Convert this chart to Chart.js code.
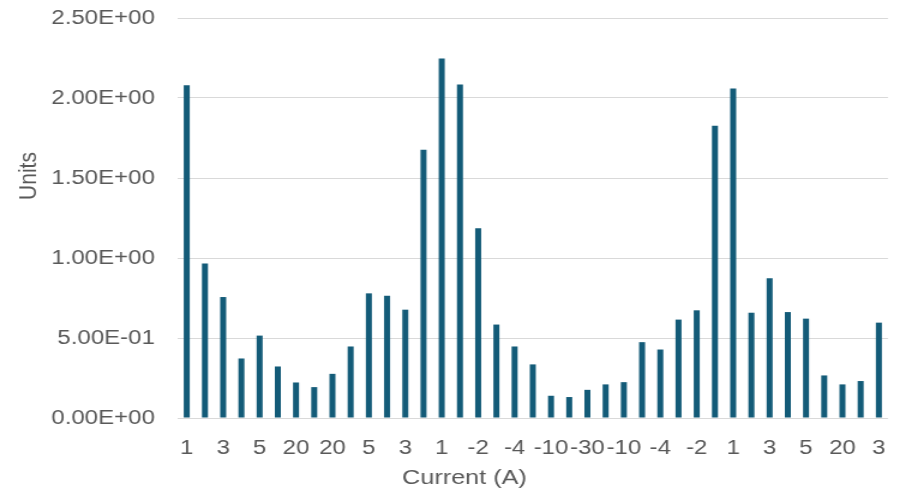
<!DOCTYPE html>
<html>
<head>
<meta charset="utf-8">
<script src="https://cdn.jsdelivr.net/npm/chart.js@4"></script>
<style>
  html, body { margin: 0; padding: 0; background: #fff; overflow: hidden; }
  /* the reference is drawn wider than tall, so stretch the chart by 1.2 horizontally;
     the canvas is nudged up 13px because Chart.js keeps ~31px above the plot */
  #wrap { position: relative; top: -13px; width: 756px; height: 505px; transform: scaleX(1.2); transform-origin: 0 0; }
  #myChart { display: block; }
</style>
</head>
<body>
<div id="wrap"><canvas id="myChart" width="756" height="505"></canvas></div>
<script>
let currents = ["1", "2", "3", "4", "5", "10", "20", "30", "20", "10", "5", "4", "3", "2", "1",
  "-1", "-2", "-3", "-4", "-5", "-10", "-20", "-30", "-20", "-10", "-5", "-4", "-3", "-2", "-1",
  "1", "2", "3", "4", "5", "10", "20", "10", "3"];
let units = [2.08, 0.965, 0.756, 0.372, 0.515, 0.322, 0.222, 0.193, 0.276, 0.447, 0.779, 0.764, 0.677,
  1.676, 2.247, 2.085, 1.186, 0.584, 0.447, 0.335, 0.139, 0.131, 0.176, 0.21, 0.224, 0.474,
  0.428, 0.615, 0.673, 1.826, 2.06, 0.658, 0.874, 0.662, 0.621, 0.266, 0.21, 0.231, 0.596];
let yTicks = [0, 0.5, 1, 1.5, 2, 2.5];

let textColor = "#595959";
let font = "'Liberation Sans', Arial, sans-serif";
let shiftY = 13;

function sci(v) {
  let parts = v.toExponential(2).split("e");
  let exp = parseInt(parts[1], 10);
  let sign = exp < 0 ? "-" : "+";
  return parts[0] + "E" + sign + String(Math.abs(exp)).padStart(2, "0");
}

// axis titles sit off-centre in the reference, so they are drawn here
let axisTitles = {
  id: "axisTitles",
  afterDraw(chart) {
    let ctx = chart.ctx;
    ctx.save();
    ctx.fillStyle = textColor;
    ctx.font = "21px " + font;
    ctx.textAlign = "center";
    ctx.textBaseline = "middle";
    ctx.fillText("Current (A)", 387, 478 + shiftY);
    ctx.translate(24, 176 + shiftY);
    ctx.rotate(-Math.PI / 2);
    ctx.fillText("Units", 0, 0);
    ctx.restore();
  },
};

new Chart(document.getElementById("myChart"), {
  type: "bar",
  data: {
    labels: currents,
    datasets: [
      {
        data: units,
        backgroundColor: "#135B78",
        barPercentage: 0.33,
        categoryPercentage: 1,
      },
    ],
  },
  options: {
    responsive: false,
    animation: false,
    layout: { autoPadding: false, padding: { top: 5, right: 5, left: 0, bottom: 0 } },
    plugins: { legend: { display: false }, tooltip: { enabled: false } },
    scales: {
      x: {
        grid: { display: false, drawTicks: false },
        border: { display: false },
        ticks: {
          autoSkip: false,
          maxRotation: 0,
          padding: 18,
          color: textColor,
          font: { family: font, size: 20 },
          callback: (v, i) => (i % 2 === 0 ? currents[i] : ""),
        },
        afterFit: (s) => { s.height = 74; },
      },
      y: {
        min: 0,
        max: 2.5,
        afterBuildTicks: (s) => { s.ticks = yTicks.map((v) => ({ value: v })); },
        grid: { color: "#D9D9D9", lineWidth: 1, drawTicks: false },
        border: { display: false },
        ticks: {
          padding: 19,
          color: textColor,
          font: { family: font, size: 20 },
          callback: (v) => sci(v),
        },
        afterFit: (s) => { s.width = 148; },
      },
    },
  },
  plugins: [axisTitles],
});
</script>
</body>
</html>
